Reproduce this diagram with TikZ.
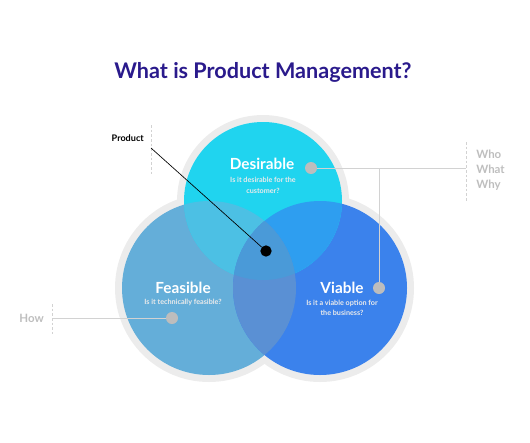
\documentclass[tikz,border=0pt]{standalone}
\usepackage{fontspec}
\setmainfont{Lato}
\usepackage{tikz}
\usetikzlibrary{positioning}

\definecolor{titleblue}{HTML}{2A1A8C}
\definecolor{desfill}{HTML}{20D4EF}
\definecolor{feafill}{HTML}{64AED9}
\definecolor{viafill}{HTML}{3B82EC}
\definecolor{dfover}{HTML}{4CC0E4}
\definecolor{dvover}{HTML}{2E9EF0}
\definecolor{fvover}{HTML}{5A90D4}
\definecolor{allover}{HTML}{4A9AD8}
\definecolor{ringgray}{HTML}{ECECEC}
\definecolor{dotgray}{HTML}{BDBDBD}
\definecolor{linegray}{HTML}{D2D2D2}
\definecolor{textgray}{HTML}{BEBEBE}

\tikzset{
  setname/.style={text=white, font=\fontsize{11.5}{13}\selectfont\bfseries, inner sep=0.75pt},
  setnote/.style={text=white!92!black, font=\fontsize{5.4}{8}\selectfont\bfseries, align=center, inner sep=0.75pt},
  sidenote/.style={text=textgray, font=\fontsize{8.6}{11.3}\selectfont\bfseries, inner sep=0.75pt},
  greydot/.style={circle, fill=dotgray, minimum size=9pt, inner sep=0pt},
  leader/.style={draw=linegray, line width=0.6pt},
  tick/.style={draw=linegray, line width=0.6pt, dash pattern={on 2pt off 1.5pt}}
}

\begin{document}
\begin{tikzpicture}[x=0.75pt,y=0.75pt,yscale=-1,xscale=1]
    \useasboundingbox (0,0) rectangle (530,442);

    % grey outline round the three sets
    \fill [ringgray] (263,201) circle (86) (209,288) circle (94) (320,288) circle (94);

    % the three sets
    \fill [feafill] (209,288) circle (87);
    \fill [viafill] (320,288) circle (87);
    \fill [desfill] (263,201) circle (79);

    % overlaps
    \begin{scope}
      \clip (263,201) circle (79);
      \fill [dfover] (209,288) circle (87);
      \fill [dvover] (320,288) circle (87);
    \end{scope}
    \begin{scope}
      \clip (209,288) circle (87);
      \fill [fvover] (320,288) circle (87);
      \clip (320,288) circle (87);
      \fill [allover] (263,201) circle (79);
    \end{scope}

    % Text Node
    \node (title) at (263,72) [text=titleblue, font=\fontsize{16.2}{18}\selectfont\bfseries] {What is Product Management?};

    % Text Node
    \node (desname) at (262,164) [setname] {Desirable};
    \node (desnote) at (263,185.5) [setnote] {Is it desirable for the\\customer?};
    % Text Node
    \node (feaname) at (183,288) [setname] {Feasible};
    \node (feanote) at (183,302) [setnote] {Is it technically feasible?};
    % Text Node
    \node (vianame) at (342,288) [setname] {Viable};
    \node (vianote) at (342,308) [setnote] {Is it a viable option for\\the business?};

    % dots
    \node (desdot) at (311,168) [greydot] {};
    \node (feadot) at (172,318) [greydot] {};
    \node (viadot) at (379,288) [greydot] {};
    \node (core) at (266,251) [circle, fill=black, minimum size=8.5pt, inner sep=0pt] {};

    % side labels
    \node (product) at (145,138) [anchor=east, inner sep=0.75pt, font=\fontsize{6.8}{8}\selectfont\bfseries] {Product};
    \node (www) at (475,170) [anchor=west, sidenote, align=left] {Who\\What\\Why};
    \node (how) at (45,318) [anchor=east, sidenote] {How};

    % dashed ticks
    \coordinate (prodtop) at (151,125);
    \coordinate (prodbot) at (151,175);
    \coordinate (prodmid) at (151,148);
    \draw [tick] (prodtop) -- (prodbot);
    \coordinate (wwwtop) at (466,142);
    \coordinate (wwwbot) at (466,202);
    \draw [tick] (wwwtop) -- (wwwbot);
    \coordinate (howtop) at (52,304);
    \coordinate (howbot) at (52,334);
    \draw [tick] (howtop) -- (howbot);

    %Straight Lines
    \coordinate (wwwmid) at (466,168);
    \coordinate (branch) at (379,168);
    \draw [leader] (desdot) -- (wwwmid);
    \draw [leader] (branch) -- (viadot);
    \coordinate (howmid) at (52,318);
    \draw [leader] (feadot) -- (howmid);
    \draw [line width=0.5pt] (prodmid) -- (core);
\end{tikzpicture}
\end{document}
